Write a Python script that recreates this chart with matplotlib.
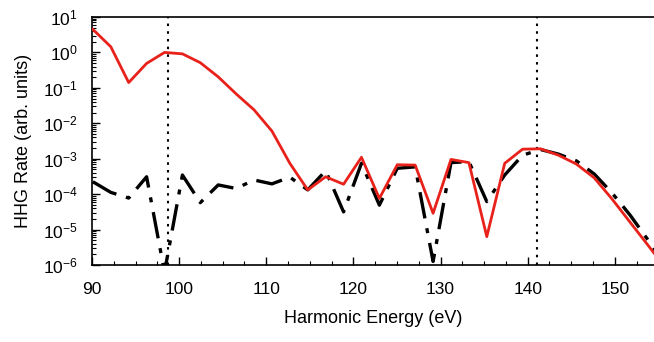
import matplotlib
matplotlib.use("Agg")
import matplotlib.pyplot as plt
import numpy as np
from matplotlib.ticker import LogLocator, MultipleLocator

# harmonic energies (eV), one point per harmonic
energy = [90.1 + 2.055 * k for k in range(33)]

# log10 of HHG rate
red_log = [0.65, 0.16, -0.85, -0.31, 0.0, -0.04, -0.29, -0.69, -1.17, -1.62,
           -2.22, -3.13, -3.88, -3.51, -3.72, -2.96, -4.12, -3.17, -3.18, -4.54,
           -3.02, -3.11, -5.20, -3.13, -2.73, -2.72, -2.90, -3.15, -3.54, -4.14,
           -4.79, -5.44, -6.10]
black_log = [-3.65, -3.95, -4.11, -3.51, -6.2, -3.46, -4.24, -3.74, -3.84, -3.60,
             -3.71, -3.52, -3.88, -3.34, -4.50, -3.13, -4.31, -3.27, -3.23, -5.90,
             -3.11, -3.08, -4.21, -3.46, -2.90, -2.74, -2.87, -3.06, -3.43, -3.97,
             -4.59, -5.29, -6.03]
marker_lines = [98.7, 141.1]

plt.rcParams.update({
    "font.family": ["Liberation Sans", "DejaVu Sans"],
    "font.size": 12.5,
    "mathtext.fontset": "custom",
    "mathtext.rm": "Liberation Sans",
    "mathtext.it": "Liberation Sans",
})

fig = plt.figure(figsize=(6.54, 3.42), dpi=100)
ax = fig.add_axes([0.1407, 0.2251, 0.8593, 0.7252])

ax.plot(energy, 10.0 ** np.array(black_log), color="black", lw=2.4,
        dashes=(8, 3, 1.5, 3), zorder=2)
ax.plot(energy, 10.0 ** np.array(red_log), color="#e8221b", lw=2.0, zorder=3)
for xv in marker_lines:
    ax.axvline(xv, color="black", lw=1.5, ls=(0, (1.2, 2.5)), zorder=1)

ax.set_yscale("log")
ax.set_xlim(90, 154.5)
ax.set_ylim(1e-6, 1e1)
ax.yaxis.set_major_locator(LogLocator(base=10, numticks=20))
ax.yaxis.set_minor_locator(LogLocator(base=10, subs=np.arange(2, 10), numticks=20))
ax.xaxis.set_major_locator(MultipleLocator(10))
ax.xaxis.set_minor_locator(MultipleLocator(2.5))
ax.tick_params(which="both", direction="in", top=False, right=False)
ax.tick_params(which="major", length=6, width=1)
ax.tick_params(which="minor", length=3, width=0.8)
ax.tick_params(axis="y", pad=10)
ax.tick_params(axis="x", pad=12.5)
ax.spines["right"].set_visible(False)
for s in ("left", "bottom", "top"):
    ax.spines[s].set_linewidth(1.2)

ax.set_xlabel("Harmonic Energy (eV)", fontsize=13, labelpad=9)
ax.set_ylabel("HHG Rate (arb. units)", fontsize=13, labelpad=8)

fig.savefig("out.png", dpi=100, facecolor="white")
